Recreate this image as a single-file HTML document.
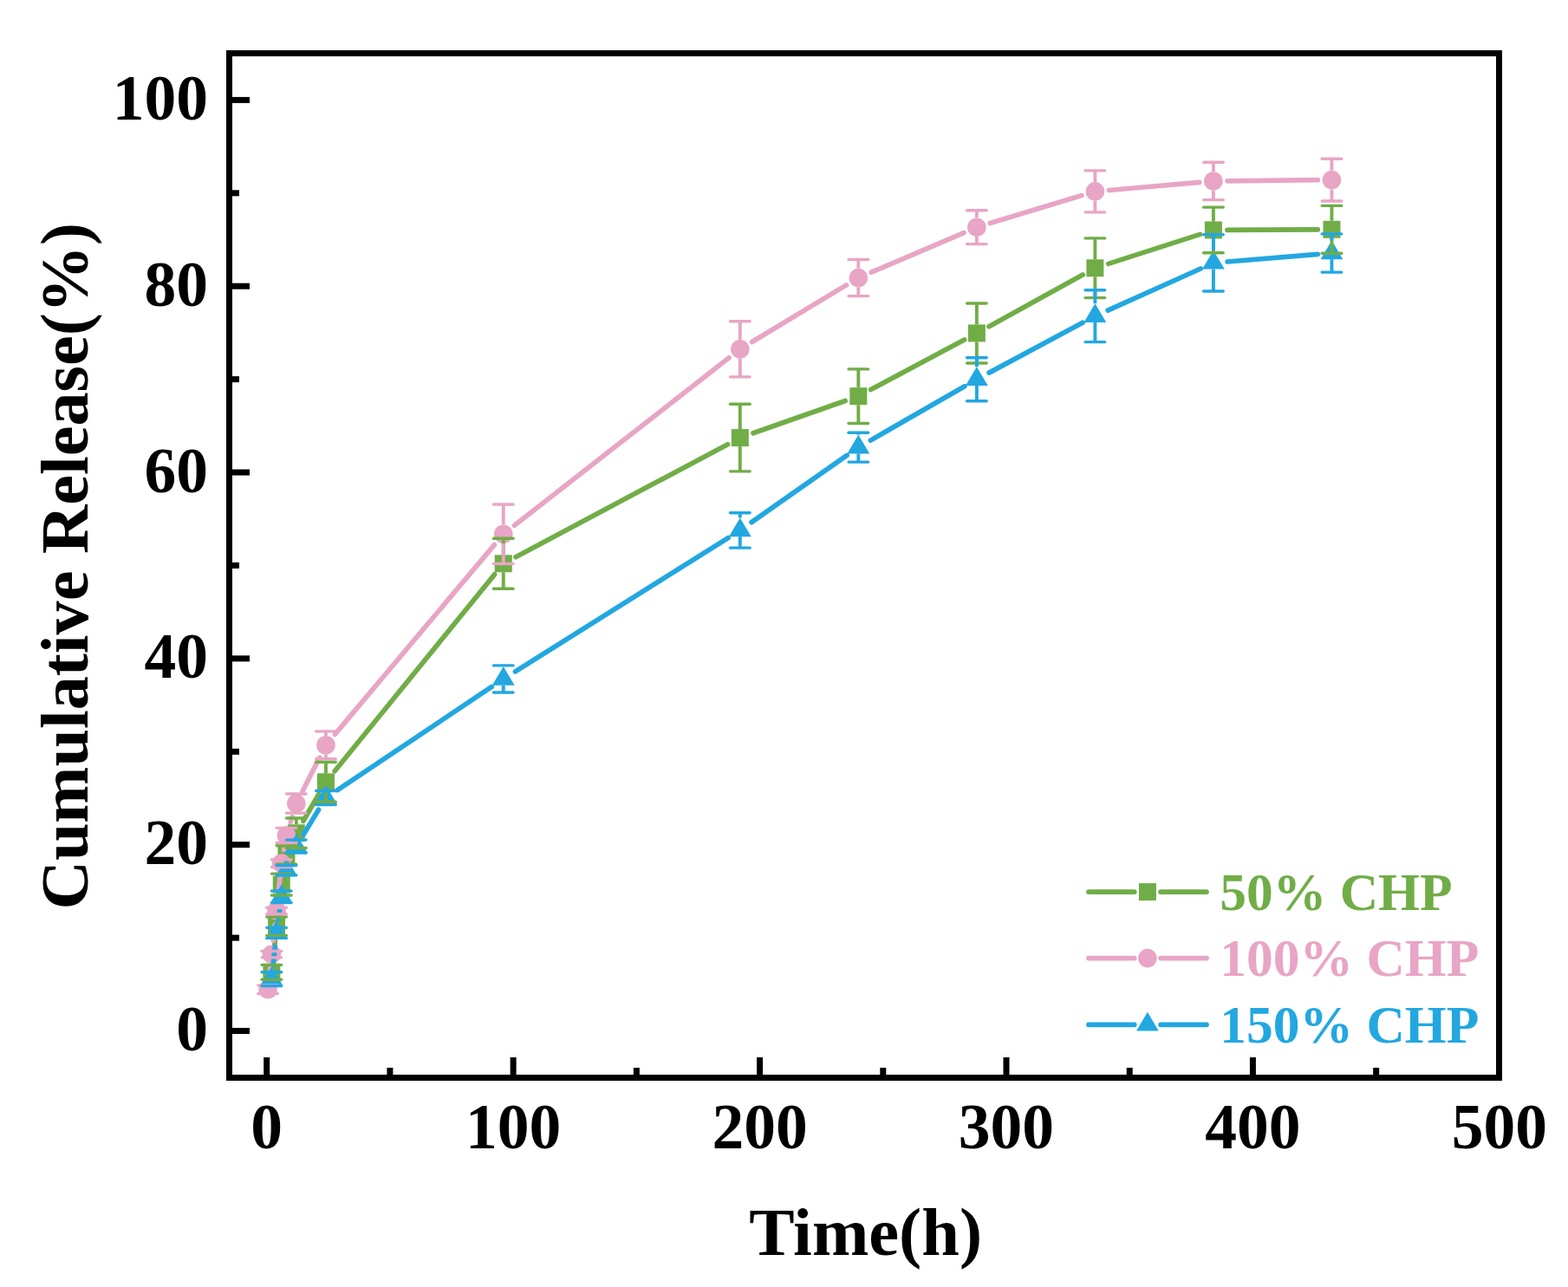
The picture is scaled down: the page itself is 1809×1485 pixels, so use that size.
<!DOCTYPE html>
<html><head><meta charset="utf-8"><title>Cumulative Release</title>
<style>html,body{margin:0;padding:0;background:#fff;overflow:hidden}svg{display:block}</style>
</head><body>
<svg width="1809" height="1485" viewBox="0 0 1809 1485">
<rect width="1809" height="1485" fill="#fff"/>
<g stroke="#70AD47" stroke-width="5.7" stroke-linecap="round" fill="none"><line x1="315.11" y1="1105.77" x2="317.36" y2="1084.83"/><line x1="320.97" y1="1052.73" x2="322.87" y2="1036.58"/><line x1="327.43" y1="1004.61" x2="327.79" y2="1002.42"/><line x1="349.92" y1="947.28" x2="367.87" y2="916.26"/><line x1="386.15" y1="889.75" x2="570.57" y2="662.83"/><line x1="595.01" y1="642.72" x2="839.55" y2="512.67"/><line x1="869.04" y1="499.74" x2="975.09" y2="462.53"/><line x1="1004.59" y1="449.59" x2="1112.6" y2="392.05"/><line x1="1141.01" y1="376.67" x2="1249.24" y2="317.07"/><line x1="1278.76" y1="304.34" x2="1384.53" y2="270.39"/><line x1="1416.06" y1="265.38" x2="1520.29" y2="264.88"/></g>
<g fill="#70AD47"><rect x="303.39" y="1111.83" width="20" height="20"/><rect x="309.08" y="1058.77" width="20" height="20"/><rect x="314.77" y="1010.54" width="20" height="20"/><rect x="320.45" y="976.5" width="20" height="20"/><rect x="331.83" y="951.25" width="20" height="20"/><rect x="365.96" y="892.29" width="20" height="20"/><rect x="570.75" y="640.3" width="20" height="20"/><rect x="843.81" y="495.08" width="20" height="20"/><rect x="980.33" y="447.18" width="20" height="20"/><rect x="1116.86" y="374.46" width="20" height="20"/><rect x="1253.38" y="299.28" width="20" height="20"/><rect x="1389.91" y="255.45" width="20" height="20"/><rect x="1526.44" y="254.81" width="20" height="20"/></g>
<g stroke="#E8A5C5" stroke-width="5.7" stroke-linecap="round" fill="none"><line x1="310.81" y1="1125.64" x2="311.7" y2="1117.27"/><line x1="315.2" y1="1085.16" x2="317.26" y2="1066.99"/><line x1="320.75" y1="1034.88" x2="323.1" y2="1012.23"/><line x1="327.57" y1="980.26" x2="327.65" y2="979.84"/><line x1="335.22" y1="948.51" x2="337.07" y2="942.53"/><line x1="349.13" y1="912.69" x2="368.66" y2="874.16"/><line x1="386.36" y1="847.39" x2="570.36" y2="628.61"/><line x1="593.48" y1="606.31" x2="841.08" y2="412.77"/><line x1="867.64" y1="394.49" x2="976.5" y2="328.89"/><line x1="1005.18" y1="314.21" x2="1112.01" y2="268.57"/><line x1="1142.31" y1="257.55" x2="1247.93" y2="225.56"/><line x1="1279.47" y1="219.47" x2="1383.82" y2="210.36"/><line x1="1416.06" y1="208.79" x2="1520.29" y2="207.72"/></g>
<g fill="#E8A5C5"><circle cx="309.12" cy="1141.7" r="10.8"/><circle cx="313.39" cy="1101.21" r="10.8"/><circle cx="319.08" cy="1050.94" r="10.8"/><circle cx="324.77" cy="996.16" r="10.8"/><circle cx="330.45" cy="963.94" r="10.8"/><circle cx="341.83" cy="927.1" r="10.8"/><circle cx="375.96" cy="859.75" r="10.8"/><circle cx="580.75" cy="616.25" r="10.8"/><circle cx="853.81" cy="402.83" r="10.8"/><circle cx="990.33" cy="320.55" r="10.8"/><circle cx="1126.86" cy="262.23" r="10.8"/><circle cx="1263.38" cy="220.88" r="10.8"/><circle cx="1399.91" cy="208.95" r="10.8"/><circle cx="1536.44" cy="207.56" r="10.8"/></g>
<g stroke="#22A7E1" stroke-width="5.7" stroke-linecap="round" fill="none"><line x1="315.1" y1="1113.61" x2="317.36" y2="1092.46"/><line x1="321.27" y1="1060.4" x2="322.58" y2="1050.83"/><line x1="350.23" y1="962.82" x2="367.57" y2="934.34"/><line x1="389.38" y1="911.56" x2="567.33" y2="792.47"/><line x1="594.43" y1="774.9" x2="840.13" y2="620.55"/><line x1="867.03" y1="602.68" x2="977.11" y2="525.42"/><line x1="1004.34" y1="508.1" x2="1112.85" y2="445.78"/><line x1="1141.1" y1="430.12" x2="1249.14" y2="372.32"/><line x1="1278.12" y1="358.08" x2="1385.18" y2="309.99"/><line x1="1416.01" y1="302.03" x2="1520.34" y2="293.32"/></g>
<g fill="#22A7E1"><polygon points="313.39,1115.21 326.29,1136.91 300.49,1136.91"/><polygon points="319.08,1061.93 331.98,1083.63 306.18,1083.63"/><polygon points="324.77,1020.36 337.67,1042.06 311.87,1042.06"/><polygon points="330.45,989.64 343.35,1011.34 317.55,1011.34"/><polygon points="341.83,962.15 354.73,983.85 328.93,983.85"/><polygon points="375.96,906.08 388.86,927.78 363.06,927.78"/><polygon points="580.75,769.02 593.65,790.72 567.85,790.72"/><polygon points="853.81,597.49 866.71,619.19 840.91,619.19"/><polygon points="990.33,501.68 1003.23,523.38 977.43,523.38"/><polygon points="1126.86,423.27 1139.76,444.97 1113.96,444.97"/><polygon points="1263.38,350.23 1276.28,371.93 1250.48,371.93"/><polygon points="1399.91,288.9 1412.81,310.6 1387.01,310.6"/><polygon points="1536.44,277.52 1549.34,299.22 1523.54,299.22"/></g>
<g stroke="#70AD47" fill="none"><line x1="302.09" y1="1113.35" x2="324.69" y2="1113.35" stroke-width="3.4" stroke-linecap="round"/><line x1="302.09" y1="1130.32" x2="324.69" y2="1130.32" stroke-width="3.4" stroke-linecap="round"/><line x1="319.08" y1="1058.03" x2="319.08" y2="1058.77" stroke-width="3.9"/><line x1="319.08" y1="1078.77" x2="319.08" y2="1079.51" stroke-width="3.9"/><line x1="307.78" y1="1058.03" x2="330.38" y2="1058.03" stroke-width="3.4" stroke-linecap="round"/><line x1="307.78" y1="1079.51" x2="330.38" y2="1079.51" stroke-width="3.4" stroke-linecap="round"/><line x1="324.77" y1="1008.08" x2="324.77" y2="1010.54" stroke-width="3.9"/><line x1="324.77" y1="1030.54" x2="324.77" y2="1033" stroke-width="3.9"/><line x1="313.47" y1="1008.08" x2="336.07" y2="1008.08" stroke-width="3.4" stroke-linecap="round"/><line x1="313.47" y1="1033" x2="336.07" y2="1033" stroke-width="3.4" stroke-linecap="round"/><line x1="330.45" y1="975.75" x2="330.45" y2="976.5" stroke-width="3.9"/><line x1="330.45" y1="996.5" x2="330.45" y2="997.24" stroke-width="3.9"/><line x1="319.15" y1="975.75" x2="341.75" y2="975.75" stroke-width="3.4" stroke-linecap="round"/><line x1="319.15" y1="997.24" x2="341.75" y2="997.24" stroke-width="3.4" stroke-linecap="round"/><line x1="341.83" y1="944.07" x2="341.83" y2="951.25" stroke-width="3.9"/><line x1="341.83" y1="971.25" x2="341.83" y2="978.44" stroke-width="3.9"/><line x1="330.53" y1="944.07" x2="353.13" y2="944.07" stroke-width="3.4" stroke-linecap="round"/><line x1="330.53" y1="978.44" x2="353.13" y2="978.44" stroke-width="3.4" stroke-linecap="round"/><line x1="375.96" y1="879.3" x2="375.96" y2="892.29" stroke-width="3.9"/><line x1="375.96" y1="912.29" x2="375.96" y2="925.27" stroke-width="3.9"/><line x1="364.66" y1="879.3" x2="387.26" y2="879.3" stroke-width="3.4" stroke-linecap="round"/><line x1="364.66" y1="925.27" x2="387.26" y2="925.27" stroke-width="3.4" stroke-linecap="round"/><line x1="580.75" y1="621.3" x2="580.75" y2="640.3" stroke-width="3.9"/><line x1="580.75" y1="660.3" x2="580.75" y2="679.3" stroke-width="3.9"/><line x1="569.45" y1="621.3" x2="592.05" y2="621.3" stroke-width="3.4" stroke-linecap="round"/><line x1="569.45" y1="679.3" x2="592.05" y2="679.3" stroke-width="3.4" stroke-linecap="round"/><line x1="853.81" y1="466.31" x2="853.81" y2="495.08" stroke-width="3.9"/><line x1="853.81" y1="515.08" x2="853.81" y2="543.86" stroke-width="3.9"/><line x1="842.51" y1="466.31" x2="865.11" y2="466.31" stroke-width="3.4" stroke-linecap="round"/><line x1="842.51" y1="543.86" x2="865.11" y2="543.86" stroke-width="3.4" stroke-linecap="round"/><line x1="990.33" y1="425.92" x2="990.33" y2="447.18" stroke-width="3.9"/><line x1="990.33" y1="467.18" x2="990.33" y2="488.43" stroke-width="3.9"/><line x1="979.03" y1="425.92" x2="1001.63" y2="425.92" stroke-width="3.4" stroke-linecap="round"/><line x1="979.03" y1="488.43" x2="1001.63" y2="488.43" stroke-width="3.4" stroke-linecap="round"/><line x1="1126.86" y1="349.98" x2="1126.86" y2="374.46" stroke-width="3.9"/><line x1="1126.86" y1="394.46" x2="1126.86" y2="418.94" stroke-width="3.9"/><line x1="1115.56" y1="349.98" x2="1138.16" y2="349.98" stroke-width="3.4" stroke-linecap="round"/><line x1="1115.56" y1="418.94" x2="1138.16" y2="418.94" stroke-width="3.4" stroke-linecap="round"/><line x1="1263.38" y1="274.9" x2="1263.38" y2="299.28" stroke-width="3.9"/><line x1="1263.38" y1="319.28" x2="1263.38" y2="343.65" stroke-width="3.9"/><line x1="1252.08" y1="274.9" x2="1274.68" y2="274.9" stroke-width="3.4" stroke-linecap="round"/><line x1="1252.08" y1="343.65" x2="1274.68" y2="343.65" stroke-width="3.4" stroke-linecap="round"/><line x1="1399.91" y1="239.14" x2="1399.91" y2="255.45" stroke-width="3.9"/><line x1="1399.91" y1="275.45" x2="1399.91" y2="291.77" stroke-width="3.9"/><line x1="1388.61" y1="239.14" x2="1411.21" y2="239.14" stroke-width="3.4" stroke-linecap="round"/><line x1="1388.61" y1="291.77" x2="1411.21" y2="291.77" stroke-width="3.4" stroke-linecap="round"/><line x1="1536.44" y1="237.42" x2="1536.44" y2="254.81" stroke-width="3.9"/><line x1="1536.44" y1="274.81" x2="1536.44" y2="292.2" stroke-width="3.9"/><line x1="1525.14" y1="237.42" x2="1547.74" y2="237.42" stroke-width="3.4" stroke-linecap="round"/><line x1="1525.14" y1="292.2" x2="1547.74" y2="292.2" stroke-width="3.4" stroke-linecap="round"/></g>
<g stroke="#E8A5C5" fill="none"><line x1="297.82" y1="1136.87" x2="320.42" y2="1136.87" stroke-width="3.4" stroke-linecap="round"/><line x1="297.82" y1="1146.54" x2="320.42" y2="1146.54" stroke-width="3.4" stroke-linecap="round"/><line x1="302.09" y1="1097.56" x2="324.69" y2="1097.56" stroke-width="3.4" stroke-linecap="round"/><line x1="302.09" y1="1104.86" x2="324.69" y2="1104.86" stroke-width="3.4" stroke-linecap="round"/><line x1="307.78" y1="1047.18" x2="330.38" y2="1047.18" stroke-width="3.4" stroke-linecap="round"/><line x1="307.78" y1="1054.7" x2="330.38" y2="1054.7" stroke-width="3.4" stroke-linecap="round"/><line x1="313.47" y1="991.87" x2="336.07" y2="991.87" stroke-width="3.4" stroke-linecap="round"/><line x1="313.47" y1="1000.46" x2="336.07" y2="1000.46" stroke-width="3.4" stroke-linecap="round"/><line x1="319.15" y1="955.35" x2="341.75" y2="955.35" stroke-width="3.4" stroke-linecap="round"/><line x1="319.15" y1="972.53" x2="341.75" y2="972.53" stroke-width="3.4" stroke-linecap="round"/><line x1="341.83" y1="916.03" x2="341.83" y2="916.3" stroke-width="3.9"/><line x1="341.83" y1="937.9" x2="341.83" y2="938.16" stroke-width="3.9"/><line x1="330.53" y1="916.03" x2="353.13" y2="916.03" stroke-width="3.4" stroke-linecap="round"/><line x1="330.53" y1="938.16" x2="353.13" y2="938.16" stroke-width="3.4" stroke-linecap="round"/><line x1="375.96" y1="843.85" x2="375.96" y2="848.95" stroke-width="3.9"/><line x1="375.96" y1="870.55" x2="375.96" y2="875.65" stroke-width="3.9"/><line x1="364.66" y1="843.85" x2="387.26" y2="843.85" stroke-width="3.4" stroke-linecap="round"/><line x1="364.66" y1="875.65" x2="387.26" y2="875.65" stroke-width="3.4" stroke-linecap="round"/><line x1="580.75" y1="581.99" x2="580.75" y2="605.45" stroke-width="3.9"/><line x1="580.75" y1="627.05" x2="580.75" y2="650.52" stroke-width="3.9"/><line x1="569.45" y1="581.99" x2="592.05" y2="581.99" stroke-width="3.4" stroke-linecap="round"/><line x1="569.45" y1="650.52" x2="592.05" y2="650.52" stroke-width="3.4" stroke-linecap="round"/><line x1="853.81" y1="370.82" x2="853.81" y2="392.03" stroke-width="3.9"/><line x1="853.81" y1="413.63" x2="853.81" y2="434.84" stroke-width="3.9"/><line x1="842.51" y1="370.82" x2="865.11" y2="370.82" stroke-width="3.4" stroke-linecap="round"/><line x1="842.51" y1="434.84" x2="865.11" y2="434.84" stroke-width="3.4" stroke-linecap="round"/><line x1="990.33" y1="299.5" x2="990.33" y2="309.75" stroke-width="3.9"/><line x1="990.33" y1="331.35" x2="990.33" y2="341.61" stroke-width="3.9"/><line x1="979.03" y1="299.5" x2="1001.63" y2="299.5" stroke-width="3.4" stroke-linecap="round"/><line x1="979.03" y1="341.61" x2="1001.63" y2="341.61" stroke-width="3.4" stroke-linecap="round"/><line x1="1126.86" y1="242.79" x2="1126.86" y2="251.43" stroke-width="3.9"/><line x1="1126.86" y1="273.03" x2="1126.86" y2="281.67" stroke-width="3.9"/><line x1="1115.56" y1="242.79" x2="1138.16" y2="242.79" stroke-width="3.4" stroke-linecap="round"/><line x1="1115.56" y1="281.67" x2="1138.16" y2="281.67" stroke-width="3.4" stroke-linecap="round"/><line x1="1263.38" y1="196.92" x2="1263.38" y2="210.08" stroke-width="3.9"/><line x1="1263.38" y1="231.68" x2="1263.38" y2="244.83" stroke-width="3.9"/><line x1="1252.08" y1="196.92" x2="1274.68" y2="196.92" stroke-width="3.4" stroke-linecap="round"/><line x1="1252.08" y1="244.83" x2="1274.68" y2="244.83" stroke-width="3.4" stroke-linecap="round"/><line x1="1399.91" y1="187.26" x2="1399.91" y2="198.15" stroke-width="3.9"/><line x1="1399.91" y1="219.75" x2="1399.91" y2="230.65" stroke-width="3.9"/><line x1="1388.61" y1="187.26" x2="1411.21" y2="187.26" stroke-width="3.4" stroke-linecap="round"/><line x1="1388.61" y1="230.65" x2="1411.21" y2="230.65" stroke-width="3.4" stroke-linecap="round"/><line x1="1536.44" y1="183.18" x2="1536.44" y2="196.76" stroke-width="3.9"/><line x1="1536.44" y1="218.36" x2="1536.44" y2="231.94" stroke-width="3.9"/><line x1="1525.14" y1="183.18" x2="1547.74" y2="183.18" stroke-width="3.4" stroke-linecap="round"/><line x1="1525.14" y1="231.94" x2="1547.74" y2="231.94" stroke-width="3.4" stroke-linecap="round"/></g>
<g stroke="#22A7E1" fill="none"><line x1="313.39" y1="1136.87" x2="313.39" y2="1137.62" stroke-width="3.9"/><line x1="302.09" y1="1121.72" x2="324.69" y2="1121.72" stroke-width="3.4" stroke-linecap="round"/><line x1="302.09" y1="1137.62" x2="324.69" y2="1137.62" stroke-width="3.4" stroke-linecap="round"/><line x1="307.78" y1="1070.38" x2="330.38" y2="1070.38" stroke-width="3.4" stroke-linecap="round"/><line x1="307.78" y1="1082.41" x2="330.38" y2="1082.41" stroke-width="3.4" stroke-linecap="round"/><line x1="313.47" y1="1028.06" x2="336.07" y2="1028.06" stroke-width="3.4" stroke-linecap="round"/><line x1="313.47" y1="1041.6" x2="336.07" y2="1041.6" stroke-width="3.4" stroke-linecap="round"/><line x1="319.15" y1="998.53" x2="341.75" y2="998.53" stroke-width="3.4" stroke-linecap="round"/><line x1="319.15" y1="1009.7" x2="341.75" y2="1009.7" stroke-width="3.4" stroke-linecap="round"/><line x1="341.83" y1="983.81" x2="341.83" y2="984.13" stroke-width="3.9"/><line x1="330.53" y1="969.09" x2="353.13" y2="969.09" stroke-width="3.4" stroke-linecap="round"/><line x1="330.53" y1="984.13" x2="353.13" y2="984.13" stroke-width="3.4" stroke-linecap="round"/><line x1="375.96" y1="927.75" x2="375.96" y2="928.6" stroke-width="3.9"/><line x1="364.66" y1="912.49" x2="387.26" y2="912.49" stroke-width="3.4" stroke-linecap="round"/><line x1="364.66" y1="928.6" x2="387.26" y2="928.6" stroke-width="3.4" stroke-linecap="round"/><line x1="580.75" y1="767.92" x2="580.75" y2="768.99" stroke-width="3.9"/><line x1="580.75" y1="790.69" x2="580.75" y2="799.06" stroke-width="3.9"/><line x1="569.45" y1="767.92" x2="592.05" y2="767.92" stroke-width="3.4" stroke-linecap="round"/><line x1="569.45" y1="799.06" x2="592.05" y2="799.06" stroke-width="3.4" stroke-linecap="round"/><line x1="853.81" y1="591.76" x2="853.81" y2="597.46" stroke-width="3.9"/><line x1="853.81" y1="619.16" x2="853.81" y2="632.15" stroke-width="3.9"/><line x1="842.51" y1="591.76" x2="865.11" y2="591.76" stroke-width="3.4" stroke-linecap="round"/><line x1="842.51" y1="632.15" x2="865.11" y2="632.15" stroke-width="3.4" stroke-linecap="round"/><line x1="990.33" y1="499.18" x2="990.33" y2="501.65" stroke-width="3.9"/><line x1="990.33" y1="523.35" x2="990.33" y2="533.12" stroke-width="3.9"/><line x1="979.03" y1="499.18" x2="1001.63" y2="499.18" stroke-width="3.4" stroke-linecap="round"/><line x1="979.03" y1="533.12" x2="1001.63" y2="533.12" stroke-width="3.4" stroke-linecap="round"/><line x1="1126.86" y1="412.71" x2="1126.86" y2="423.24" stroke-width="3.9"/><line x1="1126.86" y1="444.94" x2="1126.86" y2="462.76" stroke-width="3.9"/><line x1="1115.56" y1="412.71" x2="1138.16" y2="412.71" stroke-width="3.4" stroke-linecap="round"/><line x1="1115.56" y1="462.76" x2="1138.16" y2="462.76" stroke-width="3.4" stroke-linecap="round"/><line x1="1263.38" y1="334.73" x2="1263.38" y2="350.2" stroke-width="3.9"/><line x1="1263.38" y1="371.9" x2="1263.38" y2="394.67" stroke-width="3.9"/><line x1="1252.08" y1="334.73" x2="1274.68" y2="334.73" stroke-width="3.4" stroke-linecap="round"/><line x1="1252.08" y1="394.67" x2="1274.68" y2="394.67" stroke-width="3.4" stroke-linecap="round"/><line x1="1399.91" y1="270.71" x2="1399.91" y2="288.87" stroke-width="3.9"/><line x1="1399.91" y1="310.57" x2="1399.91" y2="336.02" stroke-width="3.9"/><line x1="1388.61" y1="270.71" x2="1411.21" y2="270.71" stroke-width="3.4" stroke-linecap="round"/><line x1="1388.61" y1="336.02" x2="1411.21" y2="336.02" stroke-width="3.4" stroke-linecap="round"/><line x1="1536.44" y1="269.86" x2="1536.44" y2="277.48" stroke-width="3.9"/><line x1="1536.44" y1="299.18" x2="1536.44" y2="314.11" stroke-width="3.9"/><line x1="1525.14" y1="269.86" x2="1547.74" y2="269.86" stroke-width="3.4" stroke-linecap="round"/><line x1="1525.14" y1="314.11" x2="1547.74" y2="314.11" stroke-width="3.4" stroke-linecap="round"/></g>
<g stroke="#000" stroke-width="7" fill="none">
<rect x="264.5" y="61.5" width="1465.0" height="1182.0"/>
<line x1="264.5" y1="1189.5" x2="288" y2="1189.5"/><line x1="264.5" y1="1082.09" x2="276" y2="1082.09"/><line x1="264.5" y1="974.68" x2="288" y2="974.68"/><line x1="264.5" y1="867.27" x2="276" y2="867.27"/><line x1="264.5" y1="759.86" x2="288" y2="759.86"/><line x1="264.5" y1="652.45" x2="276" y2="652.45"/><line x1="264.5" y1="545.04" x2="288" y2="545.04"/><line x1="264.5" y1="437.63" x2="276" y2="437.63"/><line x1="264.5" y1="330.22" x2="288" y2="330.22"/><line x1="264.5" y1="222.81" x2="276" y2="222.81"/><line x1="264.5" y1="115.4" x2="288" y2="115.4"/><line x1="307.7" y1="1243.5" x2="307.7" y2="1220"/><line x1="449.91" y1="1243.5" x2="449.91" y2="1232"/><line x1="592.13" y1="1243.5" x2="592.13" y2="1220"/><line x1="734.35" y1="1243.5" x2="734.35" y2="1232"/><line x1="876.56" y1="1243.5" x2="876.56" y2="1220"/><line x1="1018.78" y1="1243.5" x2="1018.78" y2="1232"/><line x1="1160.99" y1="1243.5" x2="1160.99" y2="1220"/><line x1="1303.2" y1="1243.5" x2="1303.2" y2="1232"/><line x1="1445.42" y1="1243.5" x2="1445.42" y2="1220"/><line x1="1587.63" y1="1243.5" x2="1587.63" y2="1232"/>
</g>
<g font-family="'Liberation Serif','Times New Roman',serif" font-weight="bold" fill="#000" font-size="73.5">
<text x="240" y="1212.1" text-anchor="end">0</text><text x="240" y="997.28" text-anchor="end">20</text><text x="240" y="782.46" text-anchor="end">40</text><text x="240" y="567.64" text-anchor="end">60</text><text x="240" y="352.82" text-anchor="end">80</text><text x="240" y="138" text-anchor="end">100</text>
<text x="307.7" y="1325.3" text-anchor="middle">0</text><text x="592.13" y="1325.3" text-anchor="middle">100</text><text x="876.56" y="1325.3" text-anchor="middle">200</text><text x="1160.99" y="1325.3" text-anchor="middle">300</text><text x="1445.42" y="1325.3" text-anchor="middle">400</text><text x="1729.85" y="1325.3" text-anchor="middle">500</text>
</g>
<g font-family="'Liberation Serif','Times New Roman',serif" font-weight="bold">
<g stroke="#70AD47" stroke-width="5.7" stroke-linecap="round"><line x1="1256" y1="1029.1" x2="1308.7500000000002" y2="1029.1"/><line x1="1339.05" y1="1029.1" x2="1392" y2="1029.1"/></g><g fill="#70AD47"><rect x="1313.9" y="1019.1" width="20" height="20"/></g><text x="1407.3" y="1049.6" fill="#70AD47" font-size="61.5">50% CHP</text><g stroke="#E8A5C5" stroke-width="5.7" stroke-linecap="round"><line x1="1256" y1="1105.6" x2="1308.7500000000002" y2="1105.6"/><line x1="1339.05" y1="1105.6" x2="1392" y2="1105.6"/></g><g fill="#E8A5C5"><circle cx="1323.9" cy="1105.6" r="10.8"/></g><text x="1407.3" y="1126.1" fill="#E8A5C5" font-size="61.5">100% CHP</text><g stroke="#22A7E1" stroke-width="5.7" stroke-linecap="round"><line x1="1256" y1="1182.3" x2="1308.7500000000002" y2="1182.3"/><line x1="1339.05" y1="1182.3" x2="1392" y2="1182.3"/></g><g fill="#22A7E1"><polygon points="1323.9,1167.83 1336.8,1189.53 1311,1189.53"/></g><text x="1407.3" y="1202.8" fill="#22A7E1" font-size="61.5">150% CHP</text>
<text x="998.6" y="1448.3" text-anchor="middle" font-size="78.5" fill="#000">Time(h)</text>
<text transform="translate(101.3 653.3) rotate(-90)" x="0" y="0" text-anchor="middle" font-size="78.2" fill="#000">Cumulative Release(%)</text>
</g>
</svg>
</body></html>
